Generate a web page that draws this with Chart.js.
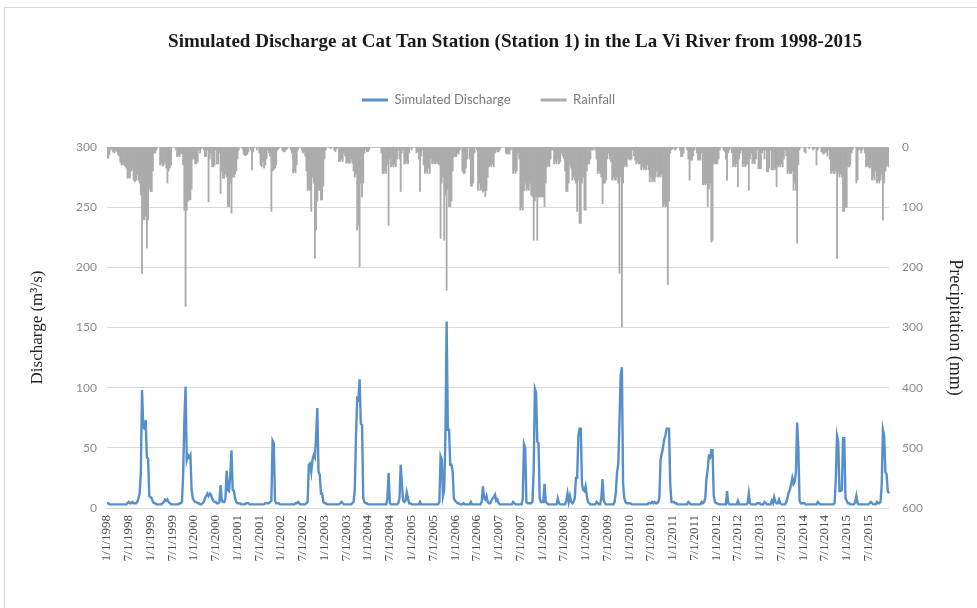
<!DOCTYPE html>
<html>
<head>
<meta charset="utf-8">
<script src="https://cdn.jsdelivr.net/npm/chart.js@4.4.1/dist/chart.umd.min.js"></script>
<style>
  html, body { margin: 0; padding: 0; background: #ffffff; }
  #wrap { position: relative; width: 977px; height: 608px; }
</style>
</head>
<body>
<div id="wrap"><canvas id="chart" width="977" height="608"></canvas></div>
<script>
// Ten-day (dekad) values, 36 per year: rainfall in mm, simulated discharge in m3/s
const years = [1998, 1999, 2000, 2001, 2002, 2003, 2004, 2005, 2006, 2007, 2008, 2009, 2010, 2011, 2012, 2013, 2014, 2015];
const dekadStartDays = [1, 11, 21];

const rain1998 = [18,19,12,5,3,8,10,6,8,12,15,25,30,28,30,32,35,52,50,52,40,38,55,58,55,45,55,60,80,210,121,121,115,168,121,70];
const rain1999 = [74,74,40,10,10,5,0,0,30,28,32,30,25,35,60,40,35,30,0,0,0,5,16,14,16,12,10,30,105,265,105,90,88,88,70,20];
const rain2000 = [20,28,28,25,5,10,3,0,5,16,16,5,91,20,10,33,33,30,5,28,28,10,77,40,52,52,45,50,99,99,60,110,50,50,45,40];
const rain2001 = [20,5,0,0,3,12,14,14,12,8,0,5,38,8,0,0,5,0,10,30,33,25,35,30,20,5,10,15,107,40,38,35,30,5,3,0];
const rain2002 = [0,5,8,8,5,3,0,0,5,10,43,40,43,30,5,0,0,5,10,8,15,40,72,70,72,107,50,60,185,138,90,72,72,88,88,65];
const rain2003 = [20,5,0,0,0,3,0,0,5,8,3,0,24,24,20,24,10,15,27,25,27,27,20,27,40,50,45,138,130,199,60,83,60,10,3,8];
const rain2004 = [8,5,0,0,0,0,0,0,0,0,0,10,44,44,40,44,30,130,20,33,30,33,28,33,20,5,20,74,10,5,28,28,25,28,10,0];
const rain2005 = [5,0,0,0,10,8,20,74,15,5,30,44,40,44,35,44,20,28,25,28,28,25,28,30,152,60,50,155,80,238,70,99,99,90,40,16];
const rain2006 = [16,16,10,12,5,0,40,44,44,35,20,0,20,65,65,60,10,0,5,72,60,72,70,75,72,83,72,50,33,30,33,28,33,10,5,8];
const rain2007 = [8,5,0,0,0,0,10,12,10,12,5,0,44,40,44,40,10,20,105,100,105,72,60,72,70,72,60,80,83,155,90,83,155,83,83,83];
const rain2008 = [83,83,99,60,33,30,33,20,5,5,28,25,28,20,28,25,10,15,20,40,74,74,60,30,35,55,50,55,60,107,55,127,127,60,50,105];
const rain2009 = [105,40,28,28,20,5,5,0,5,20,44,40,44,50,94,60,60,55,20,10,20,25,55,50,55,55,50,60,210,50,299,60,33,30,33,20];
const rain2010 = [20,22,20,5,15,22,28,25,28,28,38,33,38,35,38,30,38,58,50,58,55,58,50,40,50,48,50,45,99,95,99,99,229,90,10,5];
const rain2011 = [3,0,5,3,0,0,5,16,16,10,0,0,5,20,55,22,22,15,5,0,10,22,20,22,10,63,60,63,60,99,70,60,158,155,28,28];
const rain2012 = [28,28,20,5,0,0,5,8,20,55,10,5,0,10,33,30,33,28,66,20,10,5,33,28,33,30,28,72,20,10,28,25,28,20,5,36];
const rain2013 = [36,36,10,5,20,5,41,41,35,5,38,38,35,38,66,33,30,33,28,33,20,5,15,44,40,44,44,40,72,60,72,160,30,5,0,0];
const rain2014 = [0,8,10,0,0,3,0,0,5,3,0,30,5,0,0,8,10,12,10,8,15,5,20,44,40,44,44,40,185,44,50,45,50,107,107,100];
const rain2015 = [100,33,33,30,10,5,0,0,60,55,5,3,10,5,0,10,33,30,33,35,33,55,50,55,40,60,55,60,55,45,121,60,40,33,30,33];

const flow1998 = [4,4,3,3,3,3,3,3,3,3,3,3,3,3,3,3,3,4,5,4,4,5,4,4,4,5,8,12,30,98,67,66,73,42,41,10];
const flow1999 = [9,8,5,4,4,3,3,3,3,3,4,5,7,6,7,5,4,3,3,3,3,3,3,3,4,4,5,27,73,101,40,44,42,44,15,8];
const flow2000 = [6,5,5,4,4,3,3,4,5,8,10,12,10,12,11,8,6,5,5,4,4,5,19,6,5,5,8,31,15,14,28,48,15,14,8,5];
const flow2001 = [4,4,4,3,3,3,3,4,4,4,3,3,3,3,3,3,3,3,3,3,3,3,3,4,4,4,4,5,6,56,54,6,4,4,4,3];
const flow2002 = [3,3,3,3,3,3,3,3,3,3,3,3,4,4,5,4,3,3,3,3,3,4,5,36,37,30,40,44,42,60,83,30,28,12,12,5];
const flow2003 = [4,4,3,3,3,3,3,3,3,3,3,3,3,4,5,4,3,3,3,3,3,3,3,4,5,15,60,91,90,107,70,69,8,5,4,4];
const flow2004 = [3,3,3,3,3,3,3,3,3,3,3,3,3,3,3,3,8,29,4,3,3,3,3,3,3,4,8,36,20,6,5,6,13,8,4,4];
const flow2005 = [3,3,3,3,3,3,3,5,3,3,3,3,3,3,3,3,3,3,3,3,3,3,3,5,43,40,10,15,60,155,65,65,36,36,30,8];
const flow2006 = [6,5,4,4,3,3,3,4,3,3,3,3,3,5,3,3,3,3,3,3,3,3,5,18,8,7,10,5,4,4,6,8,9,11,6,7];
const flow2007 = [4,3,3,3,3,3,3,3,3,3,3,3,5,4,3,3,3,3,3,3,8,53,50,5,4,4,4,4,5,30,99,96,55,54,8,5];
const flow2008 = [5,5,20,5,4,3,3,3,3,3,3,3,3,8,4,3,3,3,3,3,6,12,5,10,5,4,5,8,25,25,60,66,66,20,15,14];
const flow2009 = [18,10,5,4,3,3,3,3,3,5,4,3,3,8,24,6,4,3,3,3,3,3,3,3,5,13,30,36,72,110,117,20,8,5,4,4];
const flow2010 = [4,4,3,3,3,3,3,3,3,3,3,3,3,3,3,3,4,4,4,5,4,5,4,4,5,8,40,45,50,57,60,66,66,66,20,5];
const flow2011 = [5,5,4,4,3,3,3,3,3,3,3,3,3,5,4,3,3,3,3,3,3,3,3,3,5,4,5,8,25,32,43,42,48,48,10,5];
const flow2012 = [4,4,3,3,3,3,3,3,3,14,4,3,3,3,3,3,3,3,6,3,3,3,3,3,3,3,4,12,4,3,3,3,3,3,4,4];
const flow2013 = [4,3,3,3,5,4,3,3,3,3,6,4,9,5,4,4,7,4,3,3,3,3,5,8,13,15,20,25,20,22,30,71,50,6,4,4];
const flow2014 = [4,4,3,3,3,3,3,3,3,3,3,3,5,4,3,3,3,3,3,3,3,3,3,3,3,3,4,25,60,55,14,14,15,58,58,8];
const flow2015 = [6,4,4,3,3,3,3,5,10,4,3,3,3,3,3,3,3,3,3,4,5,4,3,3,3,5,4,4,5,20,65,60,30,28,14,12];

const rainfall = [].concat(rain1998, rain1999, rain2000, rain2001, rain2002, rain2003, rain2004, rain2005, rain2006,
  rain2007, rain2008, rain2009, rain2010, rain2011, rain2012, rain2013, rain2014, rain2015);
const discharge = [].concat(flow1998, flow1999, flow2000, flow2001, flow2002, flow2003, flow2004, flow2005, flow2006,
  flow2007, flow2008, flow2009, flow2010, flow2011, flow2012, flow2013, flow2014, flow2015);

// one category per dekad, labelled m/d/yyyy
const labels = [];
years.forEach(y => {
  for (let m = 1; m <= 12; m++) {
    dekadStartDays.forEach(d => labels.push(m + '/' + d + '/' + y));
  }
});

const BLUE = '#5590cc';
const GREY = '#ababab';
const SERIF = '"Liberation Serif", "Times New Roman", serif';
const SANS = 'Lato, "Liberation Sans", sans-serif';

// heading text and the light frame around the chart
const headingPlugin = {
  id: 'heading',
  beforeDraw(chart) {
    const ctx = chart.ctx;
    ctx.save();
    ctx.strokeStyle = '#d9d9d9';
    ctx.lineWidth = 1;
    ctx.beginPath();
    ctx.moveTo(4.5, 620);
    ctx.lineTo(4.5, 7.5);
    ctx.lineTo(990, 7.5);
    ctx.stroke();
    ctx.restore();
  },
  afterDraw(chart) {
    const ctx = chart.ctx;
    ctx.save();
    ctx.font = 'bold 19px ' + SERIF;
    ctx.fillStyle = '#1a1a1a';
    ctx.textAlign = 'center';
    ctx.textBaseline = 'middle';
    ctx.fillText('Simulated Discharge at Cat Tan Station (Station 1) in the La Vi River from 1998-2015', 515, 42);
    ctx.restore();
  }
};

// extra room under the legend so the plot starts lower
const legendSpacer = {
  id: 'legendSpacer',
  beforeInit(chart) {
    const fit = chart.legend.fit;
    chart.legend.fit = function () {
      fit.call(this);
      this.height += 30.5;
    };
  }
};

new Chart(document.getElementById('chart'), {
  type: 'bar',
  data: {
    labels: labels,
    datasets: [
      {
        type: 'line',
        label: 'Simulated Discharge',
        data: discharge,
        yAxisID: 'y',
        borderColor: BLUE,
        backgroundColor: BLUE,
        borderWidth: 2.4,
        pointRadius: 0,
        tension: 0,
        order: 0
      },
      {
        type: 'bar',
        label: 'Rainfall',
        data: rainfall,
        yAxisID: 'y1',
        backgroundColor: GREY,
        borderWidth: 0,
        barPercentage: 1,
        categoryPercentage: 1,
        order: 1
      }
    ]
  },
  options: {
    responsive: false,
    animation: false,
    layout: { padding: { top: 63.5, left: 0, right: 0, bottom: 0 } },
    plugins: {
      title: { display: false },
      tooltip: { enabled: false },
      legend: {
        position: 'top',
        labels: {
          boxWidth: 26,
          boxHeight: 3,
          padding: 30,
          color: '#7a7a7a',
          font: { family: SANS, size: 13 },
          generateLabels(chart) {
            return Chart.defaults.plugins.legend.labels.generateLabels(chart)
              .map(item => Object.assign(item, { lineWidth: 0 }));
          }
        }
      }
    },
    scales: {
      x: {
        type: 'category',
        offset: false,
        grid: { display: false, drawTicks: false },
        border: { display: false },
        afterFit(scale) { scale.height = 100; },
        ticks: {
          autoSkip: false,
          minRotation: 90,
          maxRotation: 90,
          padding: 7,
          color: '#4a4a4a',
          font: { family: SERIF, size: 13 },
          callback(value) {
            const l = this.getLabelForValue(value);
            return (l.startsWith('1/1/') || l.startsWith('7/1/')) ? l : null;
          }
        }
      },
      y: {
        position: 'left',
        min: 0,
        max: 300,
        grid: { color: '#d9d9d9', drawTicks: false },
        border: { display: false },
        afterFit(scale) { scale.width = 107; },
        ticks: {
          stepSize: 50,
          padding: 10,
          color: '#8a8a8a',
          font: { family: SANS, size: 12 }
        },
        title: {
          display: true,
          text: 'Discharge (m³/s)',
          color: '#262626',
          padding: { top: 27.2, bottom: 0 },
          font: { family: SERIF, size: 17 }
        }
      },
      y1: {
        position: 'right',
        reverse: true,
        min: 0,
        max: 600,
        grid: { display: false, drawTicks: false },
        border: { display: false },
        afterFit(scale) { scale.width = 88; },
        ticks: {
          stepSize: 100,
          padding: 13,
          color: '#8a8a8a',
          font: { family: SANS, size: 12 }
        },
        title: {
          display: true,
          text: 'Precipitation (mm)',
          color: '#262626',
          padding: { top: 11.2, bottom: 0 },
          font: { family: SERIF, size: 18 }
        }
      }
    }
  },
  plugins: [legendSpacer, headingPlugin]
});
</script>
</body>
</html>
